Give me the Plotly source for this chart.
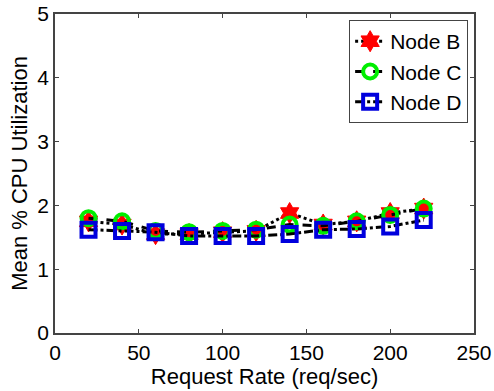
import plotly.graph_objects as go

rate = [20, 40, 60, 80, 100, 120, 140, 160, 180, 200, 220]
node_b = [1.75, 1.70, 1.55, 1.55, 1.58, 1.60, 1.88, 1.70, 1.75, 1.88, 1.95]
node_c = [1.80, 1.75, 1.60, 1.58, 1.60, 1.62, 1.70, 1.68, 1.75, 1.85, 1.95]
node_d = [1.62, 1.60, 1.58, 1.52, 1.52, 1.52, 1.55, 1.62, 1.63, 1.67, 1.77]

fig = go.Figure()
fig.add_trace(go.Scatter(x=rate, y=node_b, name="Node B", mode="lines+markers",
    line=dict(color="black", width=3, dash="dot"),
    marker=dict(symbol="hexagram", size=16, color="red", line=dict(color="red", width=1))))
fig.add_trace(go.Scatter(x=rate, y=node_c, name="Node C", mode="lines+markers",
    line=dict(color="black", width=3, dash="dash"),
    marker=dict(symbol="circle-open", size=14, color="#00ee00", line=dict(color="#00ee00", width=4))))
fig.add_trace(go.Scatter(x=rate, y=node_d, name="Node D", mode="lines+markers",
    line=dict(color="black", width=3, dash="dashdot"),
    marker=dict(symbol="square-open", size=14, color="#0000dd", line=dict(color="#0000dd", width=4))))

axis_common = dict(showline=True, linecolor="#444", linewidth=1.5, mirror="ticks",
    ticks="inside", ticklen=4, tickcolor="#444", showgrid=False, zeroline=False,
    tickfont=dict(size=21, color="black"), automargin=False)
fig.update_layout(
    width=494, height=391,
    margin=dict(l=55, r=20, t=14, b=58),
    paper_bgcolor="white", plot_bgcolor="white",
    font=dict(family="Liberation Sans, Arial", color="black"),
    xaxis=dict(range=[0, 250], tickvals=[0, 50, 100, 150, 200, 250],
               title=dict(text="Request Rate (req/sec)", font=dict(size=22), standoff=0), **axis_common),
    yaxis=dict(range=[0, 5], tickvals=[0, 1, 2, 3, 4, 5],
               title=dict(text="Mean % CPU Utilization", font=dict(size=22), standoff=4), **axis_common),
    legend=dict(x=0.986, y=0.981, xanchor="right", yanchor="top", bgcolor="white",
                bordercolor="#444", borderwidth=1, font=dict(size=21),
                tracegroupgap=0, itemwidth=30),
    showlegend=True,
)
fig.write_html("out.html")
